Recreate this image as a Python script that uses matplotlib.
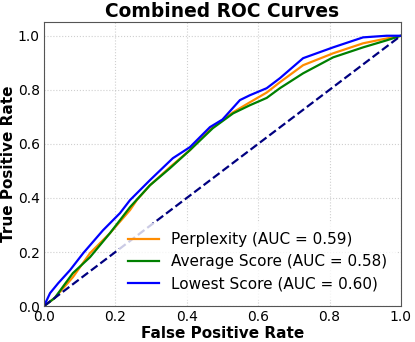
import numpy as np
import matplotlib
matplotlib.use("Agg")
import matplotlib.pyplot as plt

# points
fpr_lowest = [0.0, 0.017, 0.04, 0.073, 0.11, 0.165, 0.213, 0.241, 0.297, 0.361, 0.409, 0.465,
              0.5, 0.549, 0.577, 0.624, 0.661, 0.726, 0.81, 0.894, 0.96, 1.0]
tpr_lowest = [0.0, 0.048, 0.085, 0.133, 0.196, 0.28, 0.344, 0.392, 0.466, 0.547, 0.588, 0.662,
              0.69, 0.762, 0.78, 0.806, 0.843, 0.917, 0.957, 0.994, 1.0, 1.0]

fpr_perp = [0.0, 0.03, 0.081, 0.129, 0.185, 0.241, 0.26, 0.297, 0.353, 0.409, 0.465,
            0.53, 0.577, 0.624, 0.661, 0.726, 0.81, 0.894, 0.96, 1.0]
tpr_perp = [0.0, 0.03, 0.107, 0.196, 0.27, 0.355, 0.392, 0.447, 0.514, 0.577, 0.655,
            0.717, 0.754, 0.79, 0.828, 0.891, 0.935, 0.972, 0.99, 1.0]

fpr_avg = [0.0, 0.03, 0.081, 0.129, 0.185, 0.241, 0.297, 0.353, 0.409, 0.473,
           0.53, 0.577, 0.624, 0.661, 0.726, 0.81, 0.894, 0.96, 1.0]
tpr_avg = [0.0, 0.03, 0.122, 0.181, 0.27, 0.366, 0.447, 0.51, 0.577, 0.658,
           0.713, 0.743, 0.77, 0.806, 0.861, 0.92, 0.957, 0.983, 1.0]

labels = ["Perplexity (AUC = 0.59)", "Average Score (AUC = 0.58)", "Lowest Score (AUC = 0.60)"]

fig = plt.figure(figsize=(4.15, 3.42), dpi=100)
ax = fig.add_axes([0.106, 0.105, 0.860, 0.830])

ax.plot(fpr_perp, tpr_perp, color="darkorange", lw=1.6, label=labels[0])
ax.plot(fpr_avg, tpr_avg, color="green", lw=1.6, label=labels[1])
ax.plot(fpr_lowest, tpr_lowest, color="blue", lw=1.6, label=labels[2])
ax.plot([0, 1], [0, 1], color="navy", lw=1.6, linestyle="--")

ax.set_xlim(0.0, 1.0)
ax.set_ylim(0.0, 1.05)
ax.set_xlabel("False Positive Rate", fontsize=11, fontweight="bold", labelpad=1)
ax.set_ylabel("True Positive Rate", fontsize=11, fontweight="bold", labelpad=1)
ax.set_title("Combined ROC Curves", fontsize=13.4, fontweight="bold", pad=4)
ax.tick_params(labelsize=10, length=0, pad=3)
ax.grid(True, linestyle=":", color="#bbbbbb", alpha=0.7)
for s in ax.spines.values():
    s.set_color("#555555")
ax.legend(loc="lower right", bbox_to_anchor=(0.992, 0.015), fontsize=11, frameon=True,
          edgecolor="none", handlelength=2.0, borderaxespad=0.1, borderpad=0.6,
          labelspacing=0.45)

fig.savefig("out.png", dpi=100)
plt.close()
